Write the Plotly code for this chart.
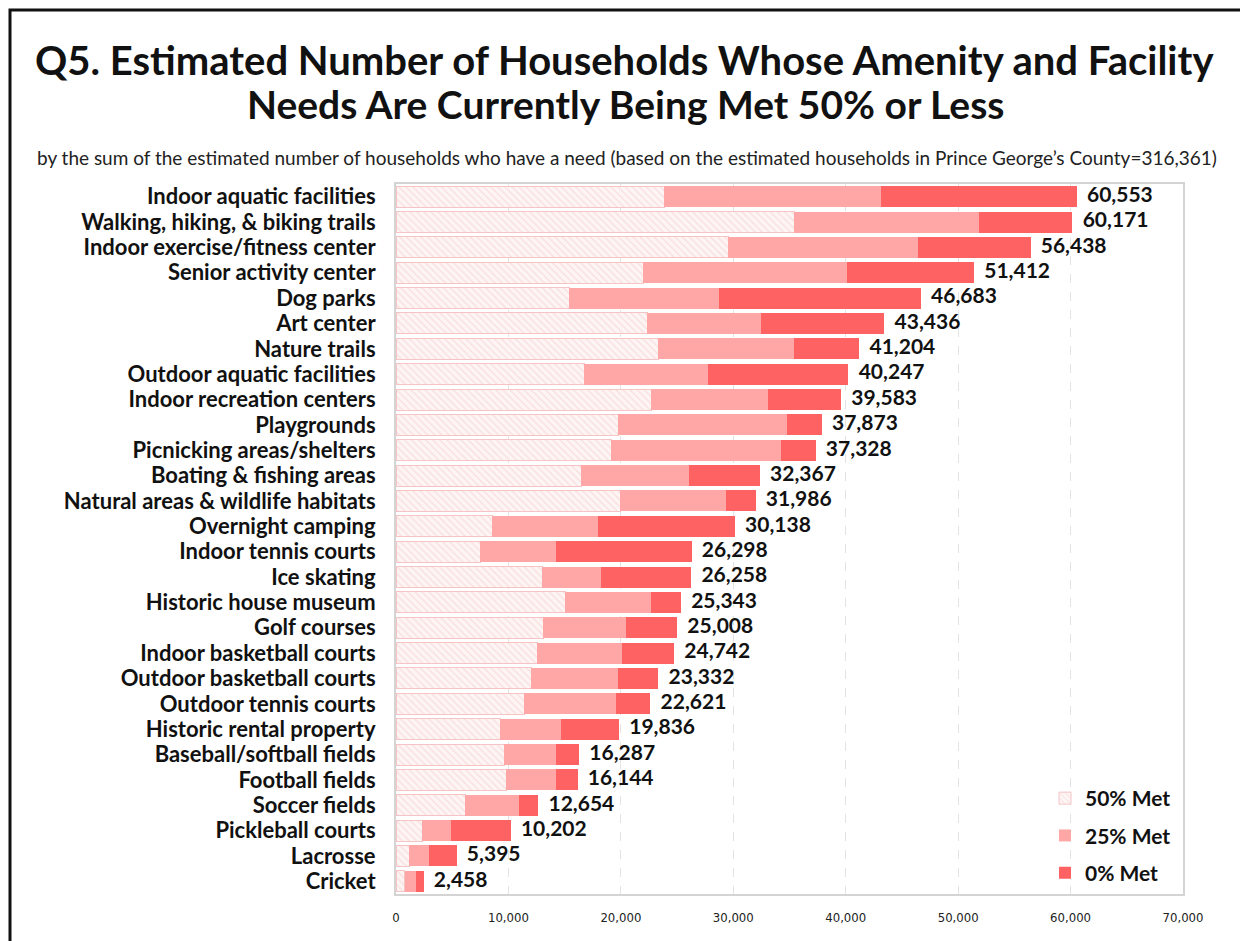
import plotly.graph_objects as go

categories = [
    "Indoor aquatic facilities", "Walking, hiking, & biking trails", "Indoor exercise/fitness center",
    "Senior activity center", "Dog parks", "Art center", "Nature trails", "Outdoor aquatic facilities",
    "Indoor recreation centers", "Playgrounds", "Picnicking areas/shelters", "Boating & fishing areas",
    "Natural areas & wildlife habitats", "Overnight camping", "Indoor tennis courts", "Ice skating",
    "Historic house museum", "Golf courses", "Indoor basketball courts", "Outdoor basketball courts",
    "Outdoor tennis courts", "Historic rental property", "Baseball/softball fields", "Football fields",
    "Soccer fields", "Pickleball courts", "Lacrosse", "Cricket",
]
totals = [60553, 60171, 56438, 51412, 46683, 43436, 41204, 40247, 39583, 37873, 37328, 32367,
          31986, 30138, 26298, 26258, 25343, 25008, 24742, 23332, 22621, 19836, 16287, 16144,
          12654, 10202, 5395, 2458]
met50 = [23865, 35440, 29560, 21990, 15400, 22350, 23330, 16740, 22700, 19770, 19140, 16470,
         19950, 8550, 7480, 13000, 15050, 13090, 12560, 12020, 11400, 9260, 9620, 9800,
         6140, 2320, 1160, 800]
met25 = [19235, 16390, 16830, 18080, 13360, 10150, 12110, 11040, 10420, 15050, 15140, 9620,
         9440, 9440, 6770, 5250, 7650, 7390, 7560, 7750, 8190, 5430, 4630, 4450,
         4810, 2580, 1780, 980]
met0 = [t - a - b for t, a, b in zip(totals, met50, met25)]
total_labels = [f"{t:,}" for t in totals]
x_ticks = [0, 10000, 20000, 30000, 40000, 50000, 60000, 70000]

FONT = "Lato"
NARROW = "Liberation Sans Narrow, DejaVu Sans Condensed"

fig = go.Figure()
fig.add_trace(go.Bar(
    y=categories, x=met50, orientation="h", name="50% Met", legendgroup="a",
    marker=dict(color="#fdf1f1", line=dict(color="#f6c4c4", width=1),
                pattern=dict(shape="\\", fgcolor="#f4c4c4", bgcolor="#fdf4f4", size=5, solidity=0.22)),
    hoverinfo="x+y",
))
fig.add_trace(go.Bar(
    y=categories, x=met25, orientation="h", name="25% Met", legendgroup="b",
    marker=dict(color="#ffa7a7", line=dict(width=0)),
))
fig.add_trace(go.Bar(
    y=categories, x=met0, orientation="h", name="0% Met", legendgroup="c",
    marker=dict(color="#ff6262", line=dict(width=0)),
))
fig.add_trace(go.Scatter(
    y=categories, x=totals, mode="text", text=["  " + s for s in total_labels],
    textposition="middle right",
    textfont=dict(family=FONT, size=21, color="#111111", weight="bold"),
    showlegend=False, hoverinfo="skip", cliponaxis=False,
))

OFF = 8  # page body margin
W, H = 1240, 933
L, T = 396 - OFF, 184 - OFF
R = W - (1183 - OFF)
B = H - (894 - OFF)
pw, ph = W - L - R, H - T - B

def px(sx):
    return (sx - OFF - L) / pw

def py(sy):
    return (H - B - (sy - OFF)) / ph

n = len(categories)

fig.update_layout(
    width=W, height=H, barmode="stack", bargap=0.17,
    margin=dict(l=L, r=R, t=T, b=B, autoexpand=False),
    paper_bgcolor="white", plot_bgcolor="white",
    font=dict(family=FONT, color="#111111"),
    showlegend=True,
    legend=dict(x=px(1045), y=py(893), xanchor="left", yanchor="bottom", tracegroupgap=7,
                font=dict(family=FONT, size=21, color="#111111", weight="bold"),
                bgcolor="rgba(255,255,255,0)", itemwidth=30),
    xaxis=dict(range=[0, 70000], tickvals=x_ticks, tickformat=",", showgrid=True,
               gridcolor="#e3e3e3", griddash="dash", gridwidth=1,
               showline=True, linecolor="#d4d4d4", linewidth=2, mirror=True,
               tickfont=dict(family=NARROW, size=13, color="#222222"),
               ticks="", ticklabelstandoff=10, zeroline=False),
    yaxis=dict(range=[n - 0.5, -0.5], tickmode="array", tickvals=categories, ticktext=categories,
               showline=True, linecolor="#d4d4d4", linewidth=2, mirror=True,
               tickfont=dict(family=FONT, size=22, color="#111111", weight="bold"),
               ticks="", ticklabelstandoff=14, showgrid=False),
    annotations=[
        dict(text="Q5. Estimated Number of Households Whose Amenity and Facility", x=px(624), y=py(60),
             xref="paper", yref="paper", showarrow=False, xanchor="center", yanchor="middle",
             font=dict(family=FONT, size=40, color="#111111", weight="bold")),
        dict(text="Needs Are Currently Being Met 50% or Less", x=px(625), y=py(104),
             xref="paper", yref="paper", showarrow=False, xanchor="center", yanchor="middle",
             font=dict(family=FONT, size=39, color="#111111", weight="bold")),
        dict(text="by the sum of the estimated number of households who have a need (based on the estimated households in Prince George\u2019s County=316,361)",
             x=px(627), y=py(157), xref="paper", yref="paper", showarrow=False,
             xanchor="center", yanchor="middle",
             font=dict(family=FONT, size=19, color="#222222")),
    ],
    shapes=[
        dict(type="rect", xref="paper", yref="paper", x0=px(10), x1=px(1300), y0=py(1000), y1=py(10),
             line=dict(color="#111111", width=3), fillcolor="rgba(0,0,0,0)", layer="above"),
    ],
)

fig.write_html("out.html")
